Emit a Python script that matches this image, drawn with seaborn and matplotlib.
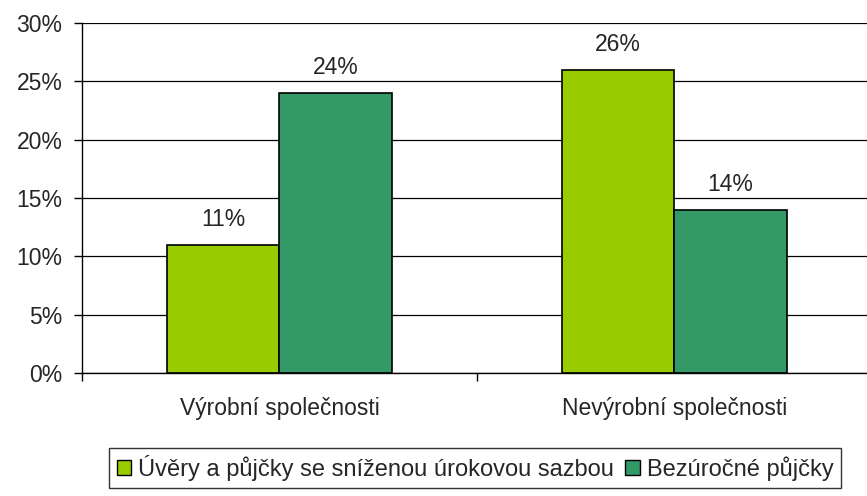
import matplotlib
matplotlib.use("Agg")
import matplotlib.pyplot as plt
import seaborn as sns
import pandas as pd

categories = ["Výrobní společnosti", "Nevýrobní společnosti"]
series = ["Úvěry a půjčky se sníženou úrokovou sazbou", "Bezúročné půjčky"]
values_a = [11, 26]
values_b = [24, 14]
colors = ["#99CC00", "#339966"]

df = pd.DataFrame({
    "cat": categories * 2,
    "serie": [series[0]] * 2 + [series[1]] * 2,
    "val": values_a + values_b,
})

sns.set_style("white")
plt.rcParams["font.family"] = ["Liberation Sans", "DejaVu Sans"]
FS = 16.5

fig = plt.figure(figsize=(8.67, 4.96), dpi=100)
ax = fig.add_axes([82 / 867, 123 / 496, 789.5 / 867, 350 / 496])

sns.barplot(data=df, x="cat", y="val", hue="serie", palette=colors,
            saturation=1, width=0.57, edgecolor="black", linewidth=1.2,
            ax=ax, legend=True)

ax.set_xlim(-0.5, 1.5)
ax.set_ylim(0, 30)
ax.set_yticks(range(0, 31, 5))
ax.set_yticklabels([f"{v}%" for v in range(0, 31, 5)], fontsize=FS)
ax.yaxis.grid(True, color="black", linewidth=0.9)
ax.set_axisbelow(True)
ax.set_xlabel("")
ax.set_ylabel("")

# x ticks at category boundaries, labels centred
ax.set_xticks([-0.5, 0.5, 1.5])
ax.set_xticklabels([])
ax.set_xticks([0, 1], minor=True)
ax.set_xticklabels(categories, minor=True, fontsize=FS)
ax.tick_params(axis="x", which="minor", length=0, pad=17)
ax.tick_params(axis="x", which="major", length=6, width=1, color="black",
               direction="out", bottom=True)
ax.tick_params(axis="y", length=6, width=1, color="black", direction="out",
               left=True, labelsize=FS, pad=8)

for s in ["top", "right"]:
    ax.spines[s].set_visible(False)
for s in ["left", "bottom"]:
    ax.spines[s].set_color("black")
    ax.spines[s].set_linewidth(1)

for cont in ax.containers:
    ax.bar_label(cont, labels=[f"{v:.0f}%" for v in cont.datavalues],
                 padding=10, fontsize=FS)

leg = ax.legend(loc="center", bbox_to_anchor=(475 / 867, 28 / 496),
                bbox_transform=fig.transFigure, ncol=2, frameon=True,
                fancybox=False, edgecolor="black", fontsize=17,
                handlelength=0.6, handleheight=0.6, handletextpad=0.3,
                columnspacing=0.5, borderpad=0.3, borderaxespad=0)
leg.get_frame().set_linewidth(1)
for h in leg.legend_handles:
    h.set_edgecolor("black")
    h.set_linewidth(1)

fig.savefig("out.png", dpi=100)
